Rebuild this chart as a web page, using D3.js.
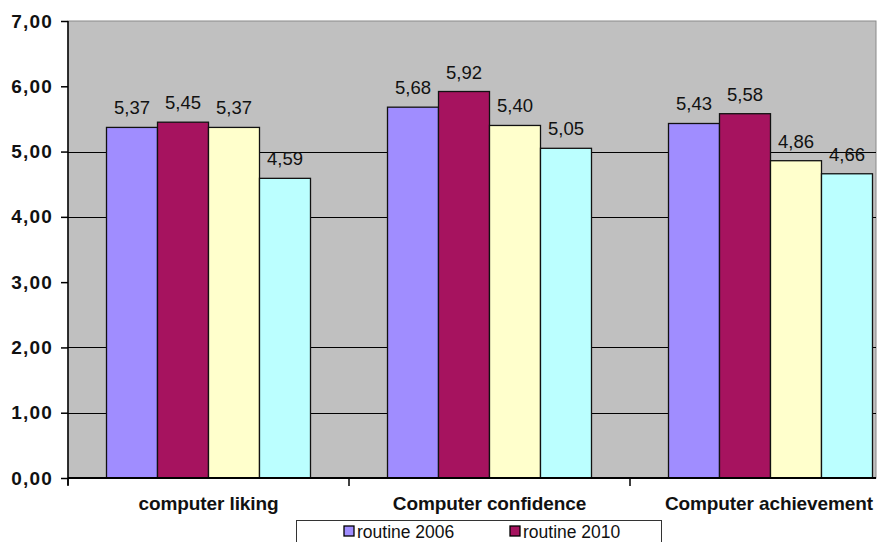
<!DOCTYPE html>
<html>
<head>
<meta charset="utf-8">
<script src="https://cdn.jsdelivr.net/npm/d3@7"></script>
<style>
  html, body { margin: 0; padding: 0; background: #ffffff; }
  svg { display: block; }
  text { font-family: Arial, "Liberation Sans", sans-serif; }
</style>
</head>
<body>
<svg id="chart" width="878" height="542"></svg>
<script>
// Categories, series and mean scores (0–7 scale)
const categories = ["computer liking", "Computer confidence", "Computer achievement"];
const seriesNames = ["routine 2006", "routine 2010", "non-routine 2006", "non-routine 2010"];
const seriesColors = ["#a08dff", "#a6135f", "#ffffcc", "#bbffff"];
const values = [
  [5.37, 5.45, 5.37, 4.59],   // computer liking
  [5.68, 5.92, 5.40, 5.05],   // Computer confidence
  [5.43, 5.58, 4.86, 4.66]    // Computer achievement
];
const yTicks = [0, 1, 2, 3, 4, 5, 6, 7];
const gridValues = [1, 2, 4, 5];
const legendShown = ["routine 2006", "routine 2010"];

const svg = d3.select("#chart");
const plot = { left: 68, right: 876, top: 21, bottom: 478 };
const bandSpan = 281;

const y = d3.scaleLinear().domain([0, 7]).range([plot.bottom, plot.top]);
const x0 = d3.scaleBand().domain(categories)
  .range([plot.left, plot.left + bandSpan * categories.length])
  .paddingInner(0).paddingOuter(0);
const x1 = d3.scaleBand().domain(seriesNames)
  .range([0, x0.bandwidth()]).paddingInner(0).paddingOuter(0.755);
const fmt = v => d3.format(".2f")(v).replace(".", ",");

// clip for the plotting area
svg.append("defs").append("clipPath").attr("id", "plotClip")
  .append("rect")
  .attr("x", plot.left).attr("y", plot.top - 20)
  .attr("width", plot.right - plot.left).attr("height", plot.bottom - plot.top + 20);

// plot background
svg.append("rect")
  .attr("x", plot.left).attr("y", plot.top)
  .attr("width", plot.right - plot.left).attr("height", plot.bottom - plot.top)
  .attr("fill", "#c0c0c0").attr("stroke", "#8a8a8a").attr("stroke-width", 1);

// horizontal grid lines
svg.append("g").selectAll("line").data(gridValues).join("line")
  .attr("x1", plot.left).attr("x2", plot.right)
  .attr("y1", d => Math.round(y(d)) + 0.5).attr("y2", d => Math.round(y(d)) + 0.5)
  .attr("stroke", "#000").attr("stroke-width", 1.2);

// bars
const gBars = svg.append("g").attr("clip-path", "url(#plotClip)");
const groups = gBars.selectAll("g").data(categories).join("g")
  .attr("transform", d => `translate(${x0(d)},0)`);
groups.selectAll("rect")
  .data((c, i) => seriesNames.map((s, j) => ({ s, v: values[i][j], c: seriesColors[j] })))
  .join("rect")
  .attr("x", d => x1(d.s))
  .attr("width", x1.bandwidth())
  .attr("y", d => y(d.v))
  .attr("height", d => plot.bottom - y(d.v))
  .attr("fill", d => d.c)
  .attr("stroke", "#111").attr("stroke-width", 1.3);

// value labels
groups.selectAll("text")
  .data((c, i) => seriesNames.map((s, j) => ({ s, v: values[i][j] })))
  .join("text")
  .attr("x", d => x1(d.s) + x1.bandwidth() / 2)
  .attr("y", d => y(d.v) - 13)
  .attr("text-anchor", "middle")
  .attr("font-size", 18.5)
  .attr("fill", "#111")
  .text(d => fmt(d.v));

// y axis
const yAxis = d3.axisLeft(y).tickValues(yTicks).tickSize(7).tickSizeOuter(0).tickFormat(fmt);
const gy = svg.append("g").attr("transform", `translate(${plot.left},0)`).call(yAxis);
gy.select(".domain").attr("stroke", "#000").attr("stroke-width", 1.5)
  .attr("d", `M0,${plot.top}V${plot.bottom + 7}`);
gy.selectAll(".tick line").attr("stroke", "#000").attr("stroke-width", 1.5);
gy.selectAll(".tick text")
  .attr("x", -15)
  .attr("font-size", 19).attr("font-weight", "bold").attr("fill", "#111")
  .attr("letter-spacing", 1.2)
  .attr("font-family", "Arial, 'Liberation Sans', sans-serif");

// x axis
const boundaries = categories.map(c => x0(c));
svg.append("line")
  .attr("x1", plot.left).attr("x2", plot.right)
  .attr("y1", plot.bottom).attr("y2", plot.bottom)
  .attr("stroke", "#000").attr("stroke-width", 2.2);
svg.append("g").selectAll("line").data(boundaries).join("line")
  .attr("x1", d => d).attr("x2", d => d)
  .attr("y1", plot.bottom).attr("y2", plot.bottom + 8)
  .attr("stroke", "#000").attr("stroke-width", 1.5);

const catLabels = svg.append("g").selectAll("text").data(categories).join("text")
  .attr("y", 510)
  .attr("text-anchor", "middle")
  .attr("font-size", 19).attr("font-weight", "bold")
  .attr("letter-spacing", -0.1)
  .attr("fill", "#111")
  .text(d => d);
catLabels.each(function (d) {
  const w = this.getComputedTextLength();
  const cx = Math.min(x0(d) + x0.bandwidth() / 2, 873 - w / 2);
  d3.select(this).attr("x", cx);
});

// legend
const legend = svg.append("g");
legend.append("rect")
  .attr("x", 296.5).attr("y", 520.5).attr("width", 365).attr("height", 40)
  .attr("fill", "#fff").attr("stroke", "#333").attr("stroke-width", 1);
const legendX = d3.scalePoint().domain(legendShown).range([344, 510]);
const items = legend.selectAll("g.item").data(legendShown).join("g")
  .attr("class", "item")
  .attr("transform", d => `translate(${legendX(d)},526)`);
items.append("rect")
  .attr("width", 10).attr("height", 10)
  .attr("fill", d => seriesColors[seriesNames.indexOf(d)])
  .attr("stroke", "#000").attr("stroke-width", 1.3);
items.append("text")
  .attr("x", 13).attr("y", 11.5)
  .attr("font-size", 17.5).attr("fill", "#111")
  .text(d => d);
</script>
</body>
</html>
